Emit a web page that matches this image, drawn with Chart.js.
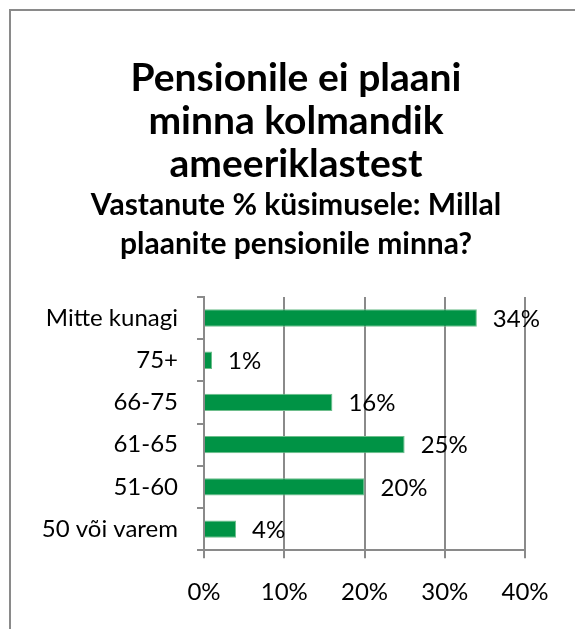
<!DOCTYPE html>
<html>
<head>
<meta charset="utf-8">
<script src="https://cdn.jsdelivr.net/npm/chart.js@4"></script>
<style>
  body { margin: 0; background: #fff; overflow: hidden; }
  #frame {
    position: absolute; left: 9px; top: 9px;
    width: 620px; height: 660px;
    border: 2px solid #8a8a8a;
  }
  #wrap { position: absolute; left: 0; top: 0; width: 575px; height: 629px; }
</style>
</head>
<body>
<div id="frame"></div>
<div id="wrap"><canvas id="chart"></canvas></div>
<script>
// values
var categories = ["Mitte kunagi", "75+", "66-75", "61-65", "51-60", "50 või varem"];
var shares = [34, 1, 16, 25, 20, 4];
var titleLines = ["Pensionile ei plaani", "minna kolmandik", "ameeriklastest"];
var subtitleLines = ["Vastanute % küsimusele: Millal", "plaanite pensionile minna?"];

var green = "rgb(0,147,69)";
var gridGray = "#8a8a8a";
var fontName = "Lato";

// draws the "34%" style labels to the right of each bar
var barLabels = {
  id: "barLabels",
  afterDatasetsDraw: function(chart) {
    var ctx = chart.ctx;
    var meta = chart.getDatasetMeta(0);
    ctx.save();
    ctx.font = "24px " + fontName;
    ctx.fillStyle = "#000";
    ctx.textAlign = "left";
    ctx.textBaseline = "middle";
    meta.data.forEach(function(bar, i) {
      ctx.fillText(shares[i] + "%", bar.x + 16, bar.y + 1);
    });
    ctx.restore();
  }
};

new Chart(document.getElementById("chart"), {
  type: "bar",
  data: {
    labels: categories,
    datasets: [{
      data: shares,
      backgroundColor: green,
      borderColor: "rgb(110,190,140)",
      borderWidth: 1,
      barPercentage: 0.82,
      categoryPercentage: 0.5
    }]
  },
  plugins: [barLabels],
  options: {
    indexAxis: "y",
    responsive: true,
    maintainAspectRatio: false,
    animation: false,
    layout: { padding: { left: 17, right: 0, top: 57, bottom: 2 } },
    plugins: {
      legend: { display: false },
      tooltip: { enabled: false },
      title: {
        display: true,
        text: titleLines,
        color: "#000",
        font: { family: fontName, size: 39, weight: "bold", lineHeight: 1.1 },
        padding: { top: 0, bottom: 0 }
      },
      subtitle: {
        display: true,
        text: subtitleLines,
        color: "#000",
        font: { family: fontName, size: 30, weight: "bold", lineHeight: 1.27 },
        padding: { top: 1, bottom: 34 }
      }
    },
    scales: {
      x: {
        min: 0, max: 40,
        ticks: {
          stepSize: 10,
          color: "#000",
          font: { family: fontName, size: 24 },
          padding: 20,
          callback: function(v) { return v + "%"; }
        },
        grid: { color: gridGray, lineWidth: 2, tickLength: 8 },
        border: { color: gridGray, width: 2 }
      },
      y: {
        afterFit: function(s) { s.width = 187; },
        ticks: {
          color: "#000",
          font: { family: fontName, size: 24 },
          padding: 19
        },
        grid: { display: true, drawOnChartArea: false, offset: true, color: gridGray, lineWidth: 2, tickLength: 7 },
        border: { color: gridGray, width: 2 }
      },
      // empty strip on the right so the plot stops short of the frame
      yRight: {
        type: "category",
        axis: "y",
        position: "right",
        afterFit: function(s) { s.width = 50; },
        ticks: { display: false },
        grid: { display: false },
        border: { display: false }
      }
    }
  }
});
</script>
</body>
</html>
